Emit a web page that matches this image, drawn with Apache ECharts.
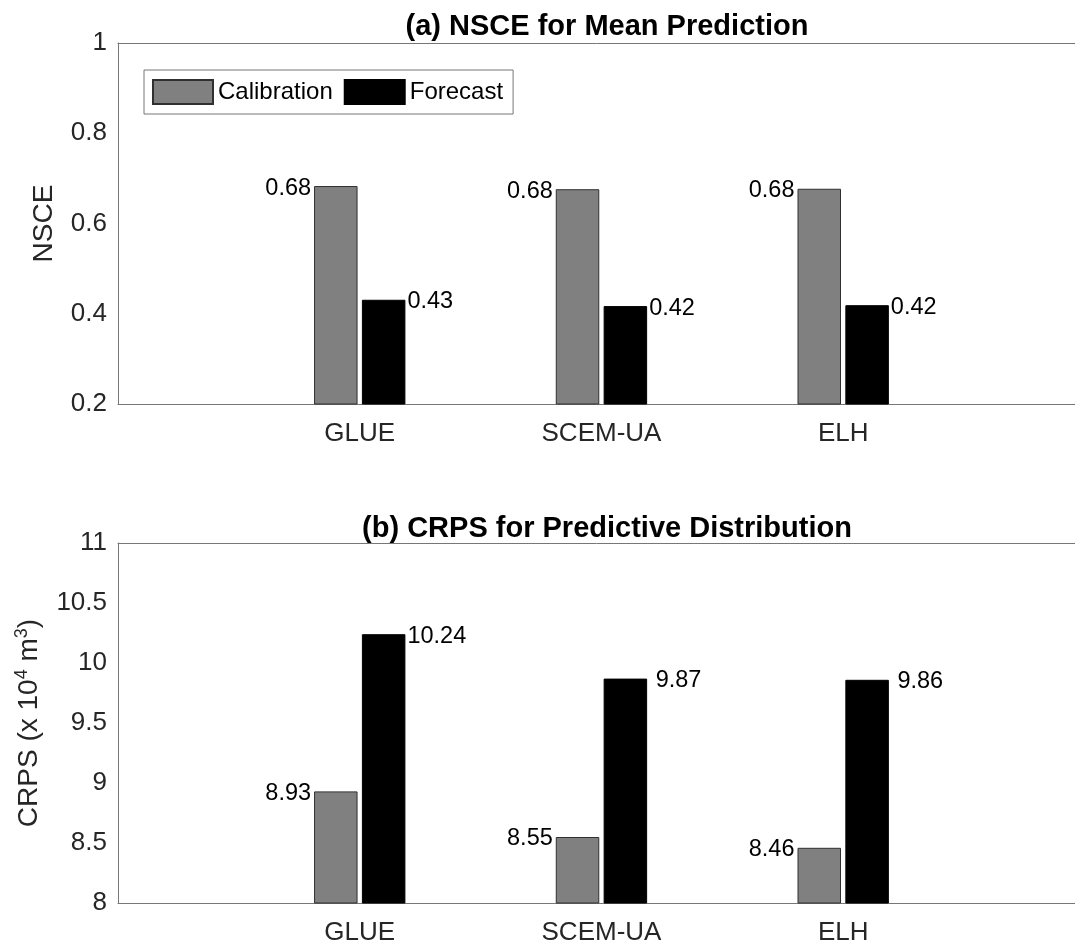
<!DOCTYPE html>
<html>
<head>
<meta charset="utf-8">
<script src="https://cdn.jsdelivr.net/npm/echarts@6/dist/echarts.min.js"></script>
<style>
html,body{margin:0;padding:0;background:#fff;}
#chart{width:1075px;height:946px;}
</style>
</head>
<body>
<div id="chart"></div>
<script>
// ---- data ----
var categories = ['GLUE', 'SCEM-UA', 'ELH'];
var seriesNames = ['Calibration', 'Forecast'];
var nsceCalibration = [0.683, 0.676, 0.677];
var nsceForecast = [0.431, 0.417, 0.419];
var crpsCalibration = [8.93, 8.55, 8.46];
var crpsForecast = [10.24, 9.87, 9.86];
var nsceTicks = {min: 0.2, max: 1, interval: 0.2};
var crpsTicks = {min: 8, max: 11, interval: 0.5};
var xRange = {min: 0, max: 3.959, interval: 1};
var titles = ['(a) NSCE for Mean Prediction', '(b) CRPS for Predictive Distribution'];

var FONT = "'Liberation Sans', Arial, sans-serif";
var AXIS_COLOR = '#777777';
var TICK_COLOR = '#262626';

function pairs(arr) { return arr.map(function (v, i) { return [i + 1, v]; }); }

function barSeries(name, data, idx, color, border, left, padWidth) {
  return {
    name: name,
    type: 'bar',
    xAxisIndex: idx * 2,
    yAxisIndex: idx,
    data: pairs(data),
    barWidth: 43.5,
    barGap: '10%',
    itemStyle: {color: color, borderColor: border, borderWidth: 1},
    label: {
      show: true,
      position: left ? [-3, 2] : ['100%', 2],
      offset: left ? [0, 0] : [2, 0],
      align: left ? 'right' : 'left',
      verticalAlign: 'middle',
      fontFamily: FONT,
      fontSize: 23.5,
      color: '#000',
      formatter: function (p) {
        var s = p.value[1].toFixed(2);
        while (s.length < padWidth) s = ' ' + s;
        return s;
      }
    }
  };
}

function xAxisDef(idx) {
  return {
    type: 'value', gridIndex: idx, min: xRange.min, max: xRange.max, interval: xRange.interval,
    position: 'bottom',
    axisLine: {show: true, onZero: false, lineStyle: {color: AXIS_COLOR, width: 1}},
    axisTick: {show: false}, splitLine: {show: false},
    axisLabel: {
      fontFamily: FONT, fontSize: 26, color: TICK_COLOR, margin: 17,
      showMaxLabel: false,
      formatter: function (v) { return categories[v - 1] || ''; }
    }
  };
}

function topAxisDef(idx) {
  return {
    type: 'value', gridIndex: idx, min: xRange.min, max: xRange.max, position: 'top',
    axisLine: {show: true, onZero: false, lineStyle: {color: AXIS_COLOR, width: 1}},
    axisTick: {show: false}, splitLine: {show: false}, axisLabel: {show: false}
  };
}

function yAxisDef(idx, t, name, gap) {
  return {
    type: 'value', gridIndex: idx, min: t.min, max: t.max, interval: t.interval,
    axisLine: {show: true, onZero: false, lineStyle: {color: AXIS_COLOR, width: 1}},
    axisTick: {show: false}, splitLine: {show: false},
    axisLabel: {fontFamily: FONT, fontSize: 26, color: TICK_COLOR, margin: 11},
    name: name, nameLocation: 'middle', nameGap: gap, nameRotate: 90,
    nameTextStyle: {
      fontFamily: FONT, fontSize: 28, color: TICK_COLOR, lineHeight: 32,
      rich: {
        sup: {fontFamily: FONT, fontSize: 18, color: TICK_COLOR, verticalAlign: 'top', lineHeight: 32}
      }
    }
  };
}

var chart = echarts.init(document.getElementById('chart'), null, {renderer: 'canvas'});
chart.setOption({
  animation: false,
  backgroundColor: '#fff',
  title: [
    {text: titles[0], left: 602, top: 7, textAlign: 'center',
     textStyle: {fontFamily: FONT, fontSize: 29, fontWeight: 'bold', color: '#000'}},
    {text: titles[1], left: 602, top: 509, textAlign: 'center',
     textStyle: {fontFamily: FONT, fontSize: 29, fontWeight: 'bold', color: '#000'}}
  ],
  legend: {
    data: seriesNames,
    left: 144, top: 70,
    orient: 'horizontal',
    itemWidth: 60, itemHeight: 24, itemGap: 11,
    padding: [9, 10, 9, 8],
    borderColor: AXIS_COLOR, borderWidth: 1,
    icon: 'rect',
    textStyle: {fontFamily: FONT, fontSize: 24, color: '#000'}
  },
  grid: [
    {left: 118, top: 43, right: 0, height: 361},
    {left: 118, top: 543, right: 0, height: 361}
  ],
  xAxis: [xAxisDef(0), topAxisDef(0), xAxisDef(1), topAxisDef(1)],
  yAxis: [
    yAxisDef(0, nsceTicks, 'NSCE', 55),
    yAxisDef(1, crpsTicks, 'CRPS (x 10{sup|4} m{sup|3})', 66)
  ],
  series: [
    barSeries(seriesNames[0], nsceCalibration, 0, '#808080', '#303030', true, 4),
    barSeries(seriesNames[1], nsceForecast, 0, '#000000', '#000000', false, 4),
    barSeries(seriesNames[0], crpsCalibration, 1, '#808080', '#303030', true, 5),
    barSeries(seriesNames[1], crpsForecast, 1, '#000000', '#000000', false, 5)
  ]
});
</script>
</body>
</html>
